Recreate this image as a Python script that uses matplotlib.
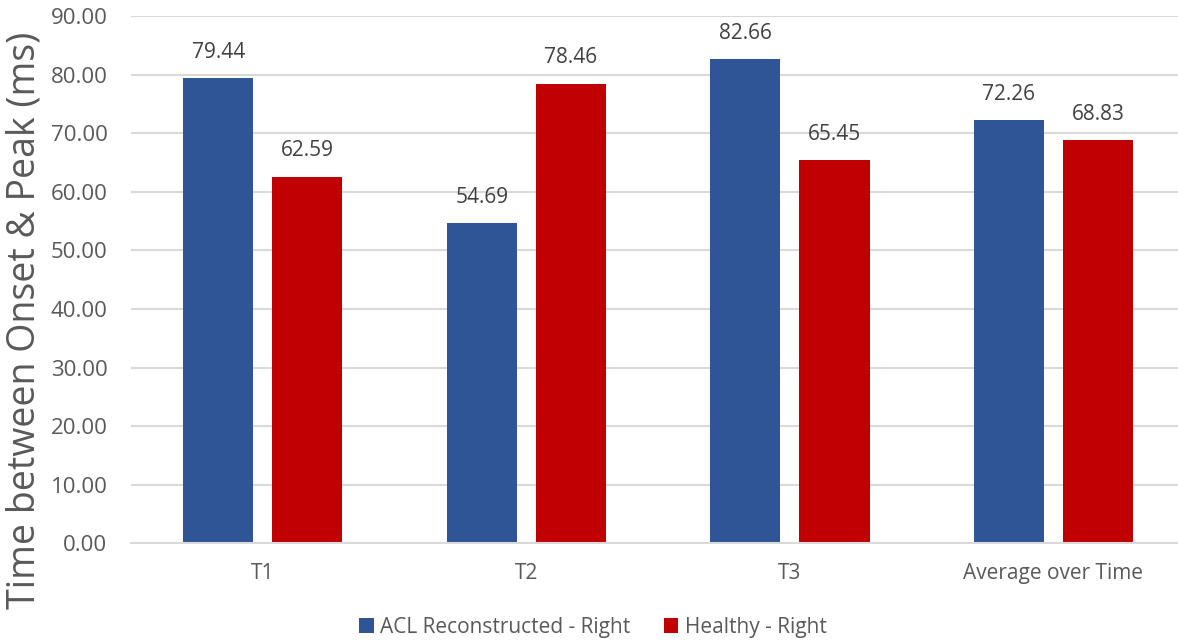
import matplotlib.pyplot as plt
import numpy as np

categories = ['T1', 'T2', 'T3', 'Average over Time']
acl_right = [79.44, 54.69, 82.66, 72.26]
healthy_right = [62.59, 78.46, 65.45, 68.83]
series_names = ['ACL Reconstructed - Right', 'Healthy - Right']
y_ticks = np.arange(0, 91, 10)

plt.rcParams['font.family'] = ['Open Sans', 'DejaVu Sans']
text_color = '#595959'
grid_color = '#D9D9D9'
blue = '#2F5597'
red = '#C00000'

fig = plt.figure(figsize=(11.78, 6.4), dpi=100)
ax = fig.add_axes([131 / 1178, (640 - 543.4) / 640, 1 - 131 / 1178, (543.4 - 16) / 640])

x = np.arange(len(categories))
width = 0.266
gap = 0.072
offset = (width + gap) / 2

bars1 = ax.bar(x - offset, acl_right, width, color=blue, label=series_names[0])
bars2 = ax.bar(x + offset, healthy_right, width, color=red, label=series_names[1])

for bars, vals in [(bars1, acl_right), (bars2, healthy_right)]:
    for b, v in zip(bars, vals):
        ax.annotate(f'{v:.2f}', (b.get_x() + b.get_width() / 2, v),
                    xytext=(0, 11), textcoords='offset points',
                    ha='center', va='bottom', fontsize=15, color='#404040')

ax.set_xlim(-0.5, (1178 - 263) / 263.5)
ax.set_ylim(0, 90)
ax.set_yticks(y_ticks)
ax.set_yticklabels([f'{t:.2f}' for t in y_ticks])
ax.set_xticks(x)
ax.set_xticklabels(categories)
ax.tick_params(axis='both', length=0, labelsize=15, colors=text_color)
ax.tick_params(axis='y', labelsize=16, pad=17)
ax.tick_params(axis='x', pad=14)

ax.grid(axis='y', color=grid_color, linewidth=1.5)
ax.set_axisbelow(True)
for s in ['top', 'right', 'left']:
    ax.spines[s].set_visible(False)
ax.spines['bottom'].set_color(grid_color)
ax.spines['bottom'].set_linewidth(1.5)

fig.text(25 / 1178, 0.5, 'Time between Onset & Peak (ms)', rotation=90,
         ha='center', va='center', fontsize=27, color=text_color)

fig.legend(loc='center', bbox_to_anchor=(593 / 1178, 1 - 627 / 640), ncol=2,
           frameon=False, fontsize=15, labelcolor=text_color,
           handlelength=0.7, handleheight=0.7, handletextpad=0.3, columnspacing=1.6)

fig.savefig('out.png', dpi=100)
